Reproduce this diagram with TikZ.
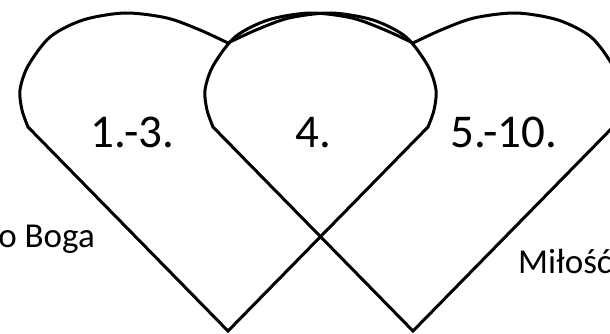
\documentclass[tikz,border=0pt]{standalone}
\usepackage{fontspec}
\setmainfont{Carlito}
\begin{document}
\begin{tikzpicture}[x=1pt,y=-1pt,
  heartline/.style={draw=black,line width=3pt,line join=miter},
  numlabel/.style={anchor=base,inner sep=0pt,font=\fontsize{47}{54}\selectfont},
  sidelabel/.style={inner sep=0pt,font=\fontsize{35}{40}\selectfont}]
\useasboundingbox (0,0) rectangle (610,334);
\fill[white] (0,0) rectangle (610,334);
\foreach \tx in {228,413}{
  \draw[heartline] (\tx,331) -- (\tx-200,127)
    -- plot[smooth,tension=0.5] coordinates {(\tx-200,127) (\tx-206,110) (\tx-208,90) (\tx-200,66) (\tx-178,37) (\tx-145,20) (\tx-103,13) (\tx-61,18) (\tx-28,30) (\tx,43)}
    -- plot[smooth,tension=0.5] coordinates {(\tx,43) (\tx+28,30) (\tx+61,18) (\tx+103,13) (\tx+145,20) (\tx+178,37) (\tx+200,66) (\tx+208,90) (\tx+206,110) (\tx+200,127)}
    -- cycle;
}
\node[numlabel] (n13) at (132.5,147) {1.-3.};
\node[numlabel] (n4) at (313.5,147) {4.};
\node[numlabel] (n510) at (504,147) {5.-10.};
\node[sidelabel,anchor=base east] (boga) at (95,247) {o Boga};
\node[sidelabel,anchor=base west] (milosc) at (518,273) {Miłość};
\end{tikzpicture}
\end{document}
